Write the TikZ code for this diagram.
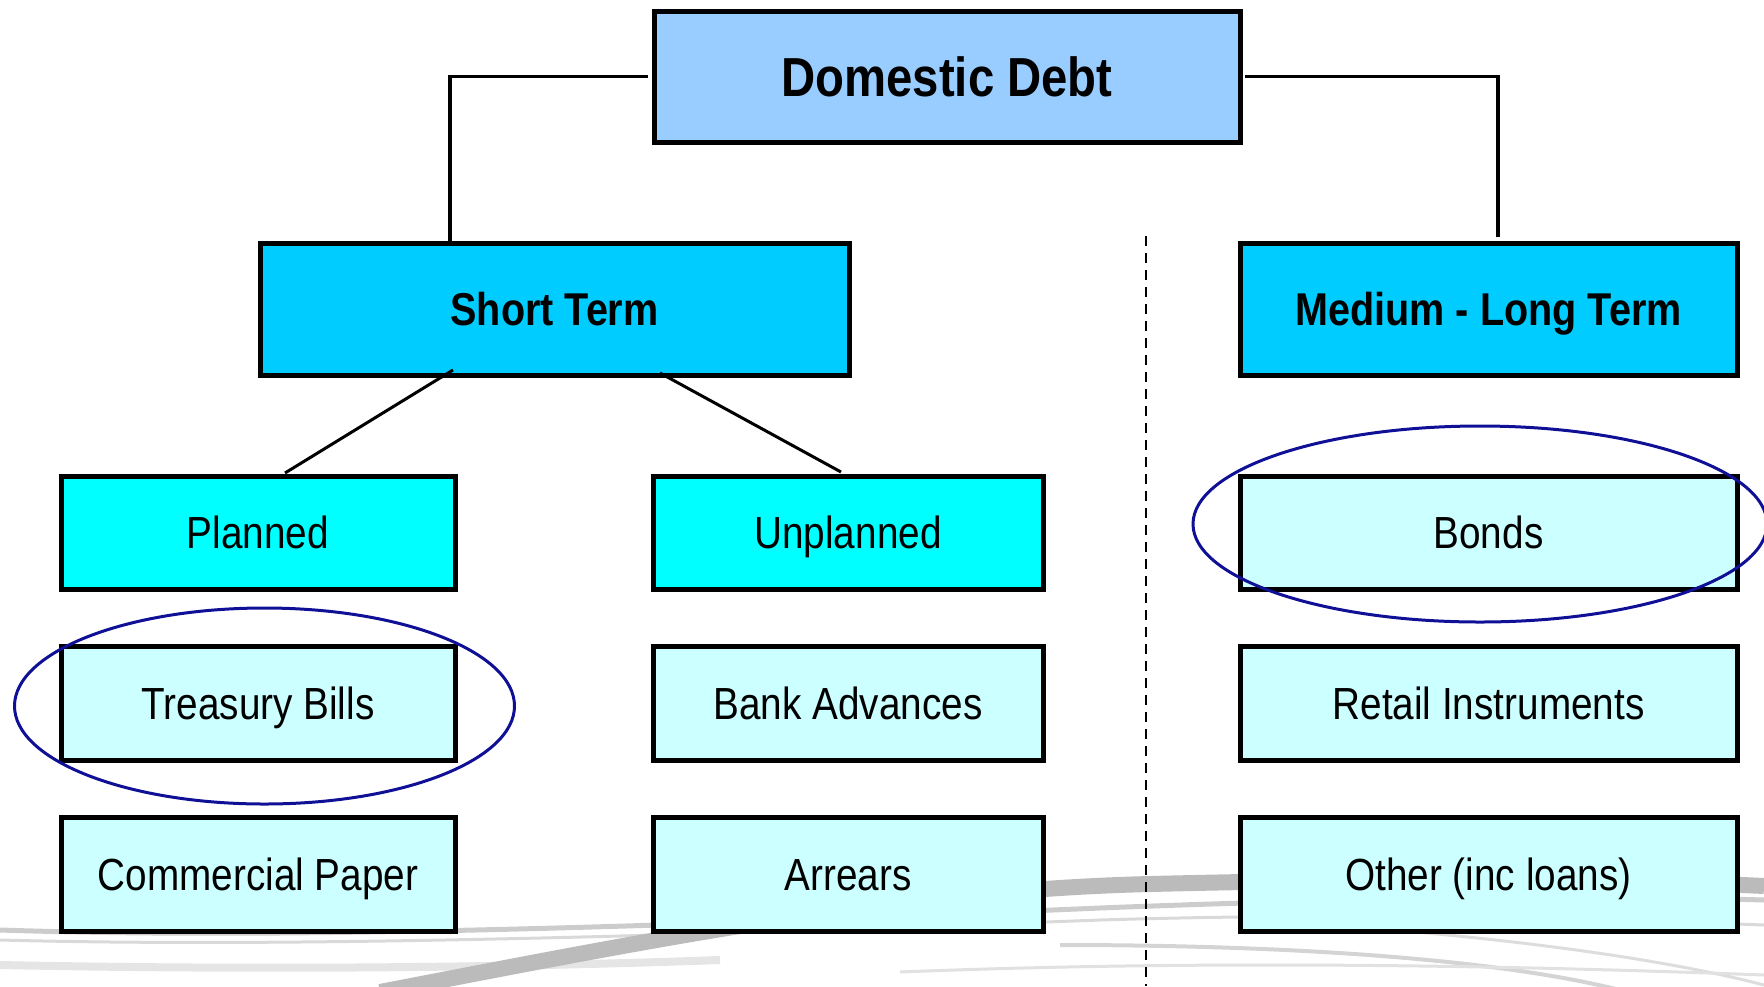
\documentclass[tikz,border=0pt]{standalone}
\usepackage{fontspec}
\setmainfont{Liberation Sans}[FakeStretch=0.86]
\definecolor{ddfill}{HTML}{99CCFF}
\definecolor{termfill}{HTML}{00CCFF}
\definecolor{planfill}{HTML}{00FFFF}
\definecolor{leaffill}{HTML}{CCFFFF}
\definecolor{ringblue}{RGB}{16,16,150}
\definecolor{swoosh}{RGB}{170,170,170}
\tikzset{
  box/.style={draw=black, line width=5pt, inner sep=0pt, align=center, text depth=0pt},
  titlebox/.style={box, fill=ddfill, text height=39.5pt, font=\bfseries\fontsize{55}{60}\selectfont},
  termbox/.style={box, fill=termfill, text height=33pt, font=\bfseries\fontsize{46}{50}\selectfont},
  planbox/.style={box, fill=planfill, text height=32pt, font=\fontsize{45}{48}\selectfont},
  leafbox/.style={box, fill=leaffill, text height=32pt, font=\fontsize{45}{48}\selectfont},
  link/.style={draw=black, line width=3.5pt},
  divider/.style={draw=black, line width=2pt, dash pattern=on 10pt off 7pt},
  ring/.style={draw=ringblue, line width=3pt},
}
\begin{document}
\begin{tikzpicture}[x=1pt, y=-1pt]
\useasboundingbox (0,0) rectangle (1764,986);
% decorative background swooshes
\begin{scope}
\draw[swoosh!60, line width=5pt] (0,930) .. controls (300,940) and (700,925) .. (1100,908) .. controls (1350,898) and (1600,895) .. (1764,900);
\draw[swoosh!45, line width=3pt] (0,940) .. controls (300,948) and (700,935) .. (1100,920) .. controls (1300,914) and (1500,915) .. (1764,925);
\draw[swoosh!30, line width=8pt] (0,965) .. controls (250,970) and (500,968) .. (720,960);
\draw[swoosh!80, line width=16pt] (380,992) .. controls (650,940) and (900,890) .. (1150,884) .. controls (1400,878) and (1600,878) .. (1764,886);
\draw[swoosh!50, line width=4pt] (1060,945) .. controls (1300,945) and (1500,960) .. (1620,990);
\draw[swoosh!40, line width=3pt] (1240,920) .. controls (1450,930) and (1650,955) .. (1764,985);
\draw[swoosh!35, line width=3pt] (900,972) .. controls (1200,960) and (1500,965) .. (1764,975);
\end{scope}
% dashed divider
\coordinate (divTop) at (1146,236);
\coordinate (divBot) at (1146,986);
\draw[divider] (divTop) -- (divBot);
% boxes
\node[titlebox, minimum width=586pt, minimum height=131pt] (dd) at (947,76.5) {Domestic Debt};
\node[termbox, minimum width=589pt, minimum height=132pt] (st) at (554.5,309) {Short Term};
\node[termbox, minimum width=497pt, minimum height=132pt] (mlt) at (1488.5,309) {Medium - Long Term};
\node[planbox, minimum width=394pt, minimum height=113pt] (pl) at (258,532.5) {Planned};
\node[planbox, minimum width=390pt, minimum height=113pt] (up) at (848,532.5) {Unplanned};
\node[leafbox, minimum width=497pt, minimum height=113pt] (bo) at (1488.5,532.5) {Bonds};
\node[leafbox, minimum width=394pt, minimum height=114pt] (tb) at (258,703) {Treasury Bills};
\node[leafbox, minimum width=390pt, minimum height=114pt] (ba) at (848,703) {Bank Advances};
\node[leafbox, minimum width=497pt, minimum height=114pt] (ri) at (1488.5,703) {Retail Instruments};
\node[leafbox, minimum width=394pt, minimum height=114pt] (cp) at (258,874) {Commercial Paper};
\node[leafbox, minimum width=390pt, minimum height=114pt] (ar) at (848,874) {Arrears};
\node[leafbox, minimum width=497pt, minimum height=114pt] (ot) at (1488.5,874) {Other (inc loans)};
% connectors
\coordinate (stTop) at (450,241);
\coordinate (mltTop) at (1498,237);
\draw[link] ([xshift=-4pt]dd.west) -| (stTop);
\draw[link] ([xshift=2pt]dd.east) -| (mltTop);
\coordinate (stL) at (453,370);
\coordinate (plTop) at (285,473);
\coordinate (stR) at (660,373);
\coordinate (upTop) at (841,472);
\draw[link, line width=3pt] (stL) -- (plTop);
\draw[link, line width=3pt] (stR) -- (upTop);
% highlight rings
\draw[ring] (264.5,706) ellipse [x radius=250pt, y radius=98pt];
\draw[ring] (1480,524) ellipse [x radius=287pt, y radius=98pt];
\end{tikzpicture}
\end{document}
